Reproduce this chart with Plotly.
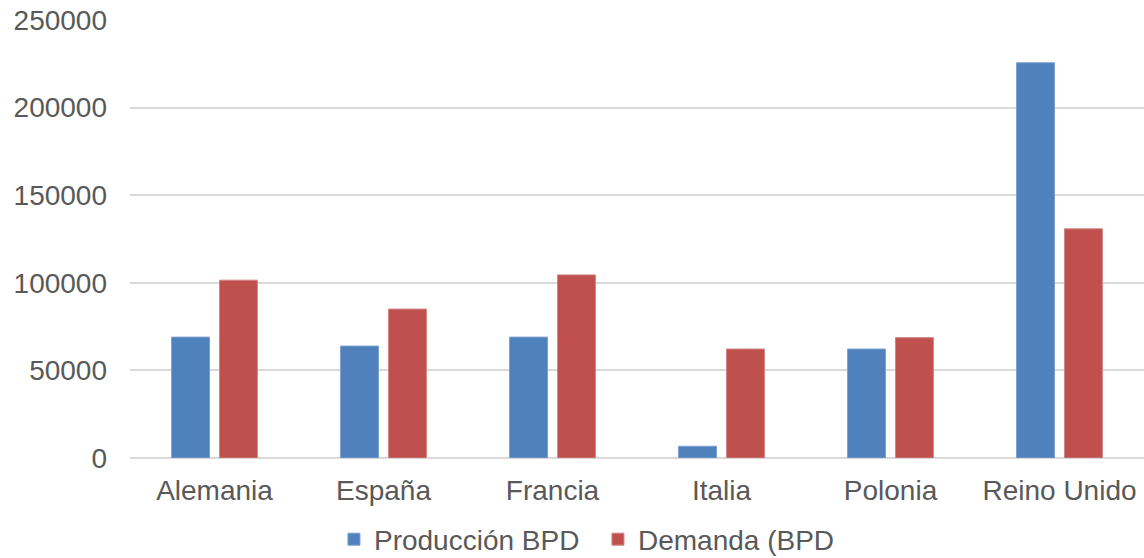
import plotly.graph_objects as go

countries = ["Alemania", "España", "Francia", "Italia", "Polonia", "Reino Unido"]
produccion = [69000, 63900, 69000, 6700, 62200, 225600]
demanda = [101500, 85000, 104500, 62200, 68700, 130800]
y_ticks = [0, 50000, 100000, 150000, 200000, 250000]

BLUE = "#4F81BD"
RED = "#C0504D"
TEXT = "#595959"
GRID = "#D9D9D9"
FONT = "Liberation Sans, Arial, sans-serif"

fig = go.Figure()
fig.add_trace(go.Bar(name="Producción BPD", x=countries, y=produccion,
                     marker=dict(color=BLUE, line=dict(width=1, color="#7C9FCF"))))
fig.add_trace(go.Bar(name="Demanda (BPD", x=countries, y=demanda,
                     marker=dict(color=RED, line=dict(width=1, color="#D08583"))))

fig.update_layout(
    width=1144, height=558,
    margin=dict(l=130, r=0, t=20, b=100, autoexpand=False),
    paper_bgcolor="white", plot_bgcolor="white",
    barmode="group", bargap=0.433, bargroupgap=0.208,
    font=dict(family=FONT, size=28, color=TEXT),
    showlegend=True,
    legend=dict(orientation="h", x=0.4615, xanchor="center", y=-0.186, yanchor="middle",
                font=dict(size=28, color=TEXT), itemwidth=30, traceorder="normal",
                entrywidth=219),
    xaxis=dict(showgrid=False, showline=False, ticks="", ticklabelstandoff=13,
               tickfont=dict(size=28, color=TEXT)),
    yaxis=dict(range=[0, 250000], tickvals=y_ticks, ticktext=[str(v) for v in y_ticks],
               showgrid=True, gridcolor=GRID, gridwidth=1.5,
               zeroline=True, zerolinecolor=GRID, zerolinewidth=1.5,
               showline=False, ticks="", ticklabelstandoff=22,
               tickfont=dict(size=28, color=TEXT)),
)

fig.write_html("out.html")
